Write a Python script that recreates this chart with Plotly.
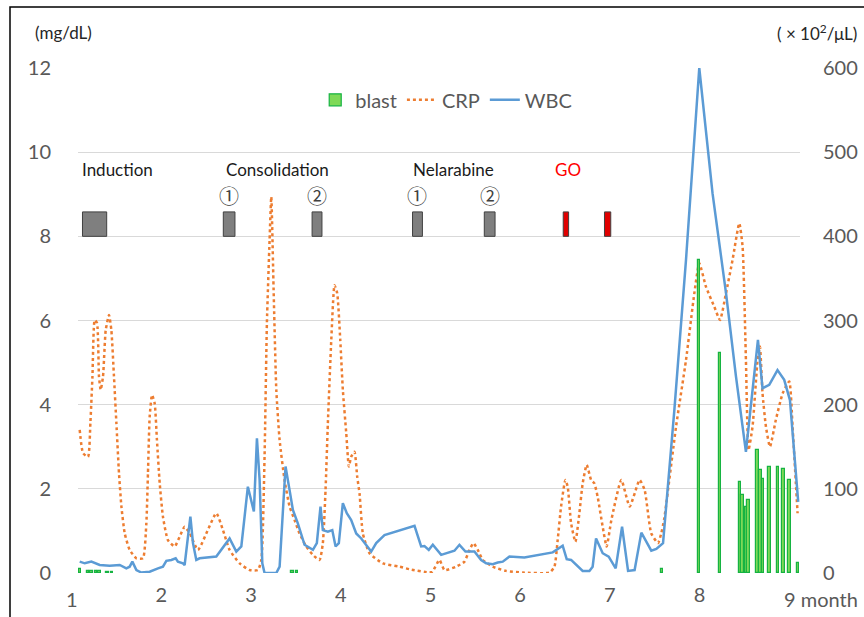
import plotly.graph_objects as go

# ---------------- data ----------------
crp_month = [1.089, 1.126, 1.182, 1.208, 1.231, 1.256, 1.282, 1.304, 1.323, 1.349,
             1.379, 1.416, 1.442, 1.471, 1.498, 1.527, 1.554, 1.591, 1.646, 1.721,
             1.794, 1.832, 1.850, 1.869, 1.895, 1.925, 1.950, 1.981, 2.017, 2.073,
             2.148, 2.203, 2.259, 2.315, 2.407, 2.612, 2.686, 2.760, 2.872, 2.983,
             3.076, 3.114, 3.150, 3.176, 3.206, 3.225, 3.251, 3.281, 3.318, 3.373,
             3.429, 3.485, 3.540, 3.615, 3.689, 3.763, 3.800, 3.830, 3.856, 3.894,
             3.930, 3.960, 3.994, 4.023, 4.061, 4.090, 4.116, 4.153, 4.183, 4.209,
             4.246, 4.320, 4.469, 4.655, 4.766, 4.989, 5.022, 5.100, 5.156, 5.286,
             5.379, 5.435, 5.479, 5.527, 5.583, 5.694, 5.843, 6.029, 6.326, 6.382,
             6.418, 6.456, 6.504, 6.530, 6.568, 6.616, 6.660, 6.697, 6.742, 6.791,
             6.827, 6.864, 6.920, 6.964, 7.017, 7.128, 7.221, 7.332, 7.388, 7.462,
             7.537, 7.574, 7.607, 7.738, 7.849, 7.942, 7.997, 8.072, 8.164, 8.228,
             8.295, 8.368, 8.443, 8.480, 8.517, 8.546, 8.591, 8.647, 8.673, 8.702,
             8.740, 8.785, 8.851, 8.927, 9.000, 9.037, 9.093]
crp_value = [3.40, 2.85, 2.76, 3.56, 4.67, 6.01, 5.94, 4.67, 4.35, 4.67,
             5.77, 6.13, 5.77, 4.67, 3.56, 2.37, 1.58, 0.94, 0.55, 0.35,
             0.35, 1.18, 2.37, 3.71, 4.23, 4.03, 3.16, 2.13, 1.34, 0.78,
             0.63, 0.86, 1.10, 0.95, 0.55, 1.42, 1.02, 0.55, 0.23, 0.07,
             0.07, 0.31, 2.76, 5.93, 7.91, 8.94, 6.73, 4.35, 3.16, 2.21,
             1.58, 1.26, 0.94, 0.63, 0.43, 0.31, 0.71, 1.97, 3.56, 5.54,
             6.84, 6.65, 5.54, 4.35, 3.32, 2.53, 2.76, 2.88, 2.29, 1.89,
             0.94, 0.47, 0.23, 0.15, 0.09, 0.01, 0.03, 0.31, 0.07, 0.15,
             0.27, 0.55, 0.71, 0.55, 0.31, 0.15, 0.05, 0.01, 0.01, 0.15,
             0.78, 1.58, 2.21, 2.05, 1.18, 0.74, 1.42, 2.13, 2.57, 2.21,
             2.13, 1.81, 1.10, 0.63, 1.26, 2.21, 1.58, 2.21, 1.97, 0.94,
             0.71, 0.95, 1.30, 3.48, 5.06, 6.65, 7.36, 6.80, 6.33, 6.01,
             6.65, 7.44, 8.31, 7.75, 5.06, 2.92, 3.48, 5.06, 5.38, 4.27,
             3.48, 3.00, 3.64, 4.27, 4.55, 3.48, 1.42]

wbc_month = [1.089, 1.145, 1.219, 1.312, 1.423, 1.535, 1.609, 1.646, 1.676, 1.721,
             1.777, 1.869, 1.962, 2.017, 2.055, 2.111, 2.159, 2.184, 2.240, 2.259,
             2.296, 2.323, 2.352, 2.389, 2.426, 2.612, 2.760, 2.835, 2.891, 2.964,
             3.031, 3.065, 3.095, 3.125, 3.150, 3.281, 3.318, 3.348, 3.384, 3.429,
             3.466, 3.521, 3.596, 3.689, 3.733, 3.774, 3.800, 3.856, 3.905, 3.942,
             3.978, 4.023, 4.067, 4.116, 4.172, 4.228, 4.339, 4.395, 4.487, 4.822,
             4.896, 4.933, 4.981, 5.026, 5.119, 5.267, 5.323, 5.390, 5.490, 5.565,
             5.621, 5.694, 5.750, 5.806, 5.880, 6.047, 6.363, 6.474, 6.519, 6.568,
             6.623, 6.697, 6.772, 6.808, 6.846, 6.920, 6.987, 7.065, 7.136, 7.203,
             7.276, 7.351, 7.462, 7.518, 7.593, 7.719, 7.849, 7.997, 8.145, 8.295,
             8.406, 8.517, 8.651, 8.702, 8.777, 8.869, 8.944, 9.008, 9.100]
wbc_value = [13.5, 11.5, 13.5, 9.5, 8.5, 9.5, 5.5, 7.5, 13.5, 3.5,
             0.5, 1.5, 5.5, 7.5, 14.5, 15.5, 17.5, 13.5, 11.5, 9.5,
             43, 67, 35.5, 15.5, 17.5, 19.5, 41, 25.5, 31.5, 102.5,
             73, 160, 110.5, 11.5, 0, 0, 7.5, 59, 126.5, 98.5,
             75, 59, 33.5, 27.5, 35.5, 79, 51, 49, 51, 31.5,
             35.5, 83, 71, 63, 47, 41, 25.5, 35.5, 45, 56,
             31.5, 32, 27.5, 33.5, 21.5, 26.5, 33.5, 25.5, 25.5, 15.5,
             11.5, 10.5, 12.5, 13.5, 19.5, 18.5, 24.5, 32.5, 16.5, 15.5,
             9.5, 2.5, 2.5, 7.5, 41, 23.5, 19.5, 5.5, 55, 2.5,
             3.5, 48, 26.5, 28.5, 35.5, 193.5, 372, 600, 451, 332.5,
             233.5, 144, 277, 219.5, 223.5, 241, 229.5, 205.5, 84.5]

blast_month = [1.089, 1.182, 1.220, 1.270, 1.310, 1.400, 1.450, 3.460, 3.510,
               7.580, 7.997, 8.228, 8.451, 8.480, 8.517, 8.546, 8.647, 8.680,
               8.710, 8.781, 8.874, 8.937, 9.003, 9.100]
blast_value = [5, 2, 2, 2, 2, 1.5, 1.5, 2.5, 2.5,
               4.5, 372, 261, 108, 93, 79, 87, 146, 122,
               112, 126, 126, 124, 111, 11.5]

# treatment schedule (month start / end) and labels
treat_start = [1.12, 2.69, 3.68, 4.80, 5.60]
treat_end = [1.39, 2.82, 3.79, 4.91, 5.72]
go_start = [6.48, 6.94]
go_end = [6.54, 7.01]
phase_labels = ["Induction", "Consolidation", "Nelarabine", "GO"]
phase_label_month = [1.513, 3.295, 5.256, 6.53]
course_labels = ["①", "②", "①", "②"]
course_label_month = [2.755, 3.735, 4.855, 5.66]

x_ticks = [2, 3, 4, 5, 6, 7, 8]
y_left_range = [0, 12]
y_right_range = [0, 600]
x_range = [1.07, 9.12]

# ---------------- figure ----------------
FONT = "Lato, 'Noto Sans CJK JP', sans-serif"
GRAY = "#595959"
W, H = 864, 617
ML, MR, MT, MB = 78, 64, 68, 44
PW = W - ML - MR


def paper_x(month):
    return (month - x_range[0]) / (x_range[1] - x_range[0])


fig = go.Figure()
fig.add_trace(go.Bar(x=blast_month, y=blast_value, name="blast", yaxis="y2",
                     width=0.026,
                     marker=dict(color="#7ED957", line=dict(color="#16B342", width=1.2))))
fig.add_trace(go.Scatter(x=crp_month, y=crp_value, name="CRP", mode="lines",
                         line=dict(color="#ED7D31", width=2.5, dash="dot",
                                   shape="spline", smoothing=0.5)))
fig.add_trace(go.Scatter(x=wbc_month, y=wbc_value, name="WBC", mode="lines", yaxis="y2",
                         line=dict(color="#5B9BD5", width=2.5)))

shapes = []
for s, e in zip(treat_start, treat_end):
    shapes.append(dict(type="rect", xref="x", yref="y", x0=s, x1=e, y0=8.0, y1=8.58,
                       fillcolor="#7F7F7F", line=dict(color="#404040", width=1)))
for s, e in zip(go_start, go_end):
    shapes.append(dict(type="rect", xref="x", yref="y", x0=s, x1=e, y0=8.0, y1=8.58,
                       fillcolor="#E00000", line=dict(color="#404040", width=1)))
# outer frame of the chart
shapes.append(dict(type="rect", xref="paper", yref="paper", x0=(10 - ML) / PW, x1=1.3,
                   y0=-0.3, y1=(H - MB - 7) / (H - MT - MB),
                   line=dict(color="#000000", width=1.5),
                   fillcolor="rgba(0,0,0,0)", layer="below"))

annotations = []
for lab, m in zip(phase_labels, phase_label_month):
    annotations.append(dict(x=m, y=9.6, xref="x", yref="y", text=lab, showarrow=False,
                            font=dict(family=FONT, size=17,
                                      color="#FF0000" if lab == "GO" else "#1a1a1a")))
for lab, m in zip(course_labels, course_label_month):
    annotations.append(dict(x=m, y=8.98, xref="x", yref="y", text=lab, showarrow=False,
                            font=dict(family="'Noto Sans CJK JP'", size=20, color="#404040")))
# outer tick labels 1 and "9 month"
annotations.append(dict(x=paper_x(1), y=0, xref="paper", yref="paper", text="1",
                        showarrow=False, xanchor="center", yanchor="top", yshift=-12,
                        font=dict(family=FONT, size=20, color=GRAY)))
annotations.append(dict(x=paper_x(9), y=0, xref="paper", yref="paper", text="9 month",
                        showarrow=False, xanchor="left", xshift=-7, yanchor="top", yshift=-12,
                        font=dict(family=FONT, size=20, color=GRAY)))
annotations.append(dict(x=(33 - ML) / PW, y=1.07, xref="paper", yref="paper", text="(mg/dL)",
                        showarrow=False, xanchor="left", yanchor="middle",
                        font=dict(family=FONT, size=17, color="#262626")))
annotations.append(dict(x=(859 - ML) / PW, y=1.07, xref="paper", yref="paper",
                        text="( × 10<sup>2</sup>/μL)",
                        showarrow=False, xanchor="right", yanchor="middle",
                        font=dict(family=FONT, size=17, color="#262626")))

fig.update_layout(
    width=W, height=H, autosize=False,
    margin=dict(l=ML, r=MR, t=MT, b=MB, pad=0),
    paper_bgcolor="white", plot_bgcolor="white",
    font=dict(family=FONT, color=GRAY),
    showlegend=True,
    legend=dict(orientation="h", x=0.51, y=0.937, xanchor="center", yanchor="middle",
                font=dict(family=FONT, size=20, color=GRAY), itemwidth=30,
                bgcolor="rgba(0,0,0,0)"),
    bargap=0,
    shapes=shapes,
    annotations=annotations,
    xaxis=dict(range=x_range, tickvals=x_ticks, showgrid=False, zeroline=False,
               showline=False, ticks="", automargin=False,
               tickfont=dict(family=FONT, size=20, color=GRAY), ticklabelstandoff=8),
    yaxis=dict(range=y_left_range, dtick=2, showgrid=True, gridcolor="#D9D9D9",
               gridwidth=1, zeroline=False, showline=False, ticks="", automargin=False,
               tickfont=dict(family=FONT, size=20, color=GRAY), ticklabelstandoff=26),
    yaxis2=dict(range=y_right_range, dtick=100, overlaying="y", side="right",
                showgrid=False, zeroline=False, showline=False, ticks="", automargin=False,
                tickfont=dict(family=FONT, size=20, color=GRAY), ticklabelstandoff=22),
)

fig.write_html("out.html",
               config={"displayModeBar": False, "responsive": False},
               post_script="document.body.style.margin='0';")
